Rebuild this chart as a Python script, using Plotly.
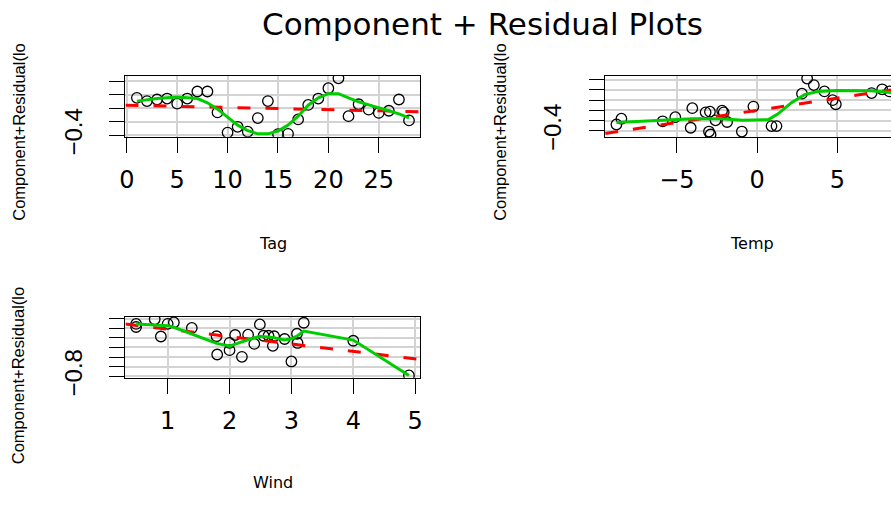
import plotly.graph_objects as go

W, H = 894, 508

# ---------------- data ----------------
tag = [1, 2, 3, 4, 5, 6, 7, 8, 9, 10, 11, 12, 13, 14,
       15, 16, 17, 18, 19, 20, 21, 22, 23, 24, 25, 26, 27, 28]
tag_resid = [-0.123, -0.147, -0.135, -0.128, -0.166, -0.128, -0.076, -0.076,
             -0.230, -0.379, -0.336, -0.372, -0.272, -0.147, -0.390, -0.388,
             -0.282, -0.175, -0.128, -0.052, 0.021, -0.258, -0.170, -0.210,
             -0.234, -0.218, -0.135, -0.289]
tag_fit_x = [-0.13, 29.1]
tag_fit_y = [-0.177, -0.225]
tag_smooth_x = [1, 3, 5, 7, 8, 9, 10, 11, 12, 13, 14, 15, 16, 17, 18, 19,
                20, 21, 22, 23, 24, 25, 26, 27, 28]
tag_smooth_y = [-0.147, -0.128, -0.116, -0.128, -0.159, -0.206, -0.265, -0.324,
                -0.365, -0.388, -0.388, -0.367, -0.324, -0.258, -0.177, -0.123,
                -0.092, -0.092, -0.123, -0.152, -0.175, -0.194, -0.218, -0.241,
                -0.270]

temp = [-8.77, -8.46, -5.89, -5.10, -4.04, -4.14, -3.21, -2.94, -3.00, -2.90,
        -2.59, -2.18, -2.08, -1.87, -0.95, -0.23, 0.90, 1.21, 2.80, 3.12,
        3.54, 4.20, 4.71, 4.91, 7.14, 7.80, 8.25]
temp_resid = [-0.337, -0.281, -0.306, -0.266, -0.178, -0.369, -0.219, -0.212,
              -0.406, -0.435, -0.297, -0.203, -0.219, -0.313, -0.406, -0.163,
              -0.353, -0.353, -0.037, 0.110, 0.047, -0.015, -0.100, -0.140,
              -0.031, 0.006, -0.015]
temp_fit_x = [-9.47, 8.35]
temp_fit_y = [-0.425, 0.0]
temp_smooth_x = [-8.77, -5.85, -4.04, -2.18, -0.91, 0.70, 1.31, 2.14, 2.96,
                 3.78, 5.00, 7.07, 8.35]
temp_smooth_y = [-0.318, -0.297, -0.281, -0.281, -0.297, -0.290, -0.234,
                 -0.125, -0.046, -0.015, -0.006, -0.009, -0.025]

wind = [0.49, 0.49, 0.79, 0.89, 1.00, 1.10, 1.39, 1.79, 1.80, 2.00, 2.00,
        2.09, 2.20, 2.30, 2.40, 2.49, 2.55, 2.63, 2.70, 2.72, 2.89, 3.00,
        3.09, 3.10, 3.20, 4.00, 4.90]
wind_resid = [-0.255, -0.287, -0.207, -0.386, -0.254, -0.240, -0.297, -0.383,
              -0.573, -0.452, -0.528, -0.370, -0.597, -0.367, -0.463, -0.260,
              -0.378, -0.378, -0.483, -0.383, -0.412, -0.645, -0.357, -0.453,
              -0.243, -0.430, -0.790]
wind_fit_x = [0.318, 5.08]
wind_fit_y = [-0.257, -0.624]
wind_smooth_x = [0.49, 1.0, 1.1, 1.38, 1.79, 2.0, 2.09, 2.31, 2.49, 2.7,
                 2.89, 3.01, 3.11, 3.2, 4.0, 4.9]
wind_smooth_y = [-0.257, -0.273, -0.29, -0.357, -0.457, -0.485, -0.463, -0.417,
                 -0.383, -0.397, -0.423, -0.407, -0.373, -0.33, -0.423, -0.79]

title_text = "Component + Residual Plots"
ylab_text = "Component+Residual(lo"
xlabels = ["Tag", "Temp", "Wind"]

tag_ticks = [0, 5, 10, 15, 20, 25]
temp_ticks = [-5, 0, 5]
wind_ticks = [1, 2, 3, 4, 5]
y1_ticks = [-0.4, -0.3, -0.2, -0.1, 0.0]
y2_ticks = [-0.4, -0.3, -0.2, -0.1, 0.0, 0.1]
y3_ticks = [-0.8, -0.7, -0.6, -0.5, -0.4, -0.3, -0.2]

# ---------------- figure ----------------
HFONT = "DejaVu Sans, Liberation Sans, Arial, sans-serif"   # horizontal text (wide)
VFONT = "Liberation Sans, Arial, Helvetica, sans-serif"     # rotated text
GREEN = "#00CD00"
RED = "#FF0000"

fig = go.Figure()

panels = [
    (tag, tag_resid, tag_fit_x, tag_fit_y, tag_smooth_x, tag_smooth_y, "x", "y"),
    (temp, temp_resid, temp_fit_x, temp_fit_y, temp_smooth_x, temp_smooth_y, "x2", "y2"),
    (wind, wind_resid, wind_fit_x, wind_fit_y, wind_smooth_x, wind_smooth_y, "x3", "y3"),
]
for xs, ys, fx, fy, sx, sy, xa, ya in panels:
    fig.add_trace(go.Scatter(x=xs, y=ys, mode="markers", xaxis=xa, yaxis=ya,
                             marker=dict(symbol="circle-open", size=10.5, color="black",
                                         line=dict(width=1.3, color="black")),
                             cliponaxis=True, showlegend=False, hoverinfo="skip"))
    fig.add_trace(go.Scatter(x=fx, y=fy, mode="lines", xaxis=xa, yaxis=ya,
                             line=dict(color=RED, width=3, dash="13px,15px"),
                             showlegend=False, hoverinfo="skip"))
    fig.add_trace(go.Scatter(x=sx, y=sy, mode="lines", xaxis=xa, yaxis=ya,
                             line=dict(color=GREEN, width=3),
                             showlegend=False, hoverinfo="skip"))


def xd(a, b):
    return [a / W, b / W]


def yd(top, bottom):
    return [1 - bottom / H, 1 - top / H]


common_x = dict(showline=True, linecolor="black", linewidth=1.3, mirror=True,
                ticks="outside", ticklen=15, tickwidth=1.3, tickcolor="black",
                showgrid=True, gridcolor="#D3D3D3", gridwidth=1.5, zeroline=False,
                tickfont=dict(family=HFONT, size=24, color="black"),
                ticklabelstandoff=6)
common_y = dict(showline=True, linecolor="black", linewidth=1.3,
                ticks="outside", ticklen=15, tickwidth=1.3, tickcolor="black",
                showgrid=True, gridcolor="#D3D3D3", gridwidth=1.5, zeroline=False,
                tickfont=dict(family=VFONT, size=24, color="black"),
                tickangle=-90, ticklabelstandoff=18)


def ylabels(ticks):
    return [("\u2212" + f"{abs(ticks[0]):.1f}")] + [""] * (len(ticks) - 1)


fig.update_layout(
    width=W, height=H,
    margin=dict(l=0, r=0, t=0, b=0),
    paper_bgcolor="white", plot_bgcolor="white",
    font=dict(family=HFONT, color="black"),
    xaxis=dict(common_x, domain=xd(120.7, 418.3), range=[-0.13, 29.1],
               tickvals=tag_ticks, anchor="y"),
    yaxis=dict(common_y, mirror=True, domain=yd(79, 142), range=[-0.409, 0.0376],
               tickvals=y1_ticks, ticktext=ylabels(y1_ticks), anchor="x"),
    xaxis2=dict(common_x, domain=xd(605.3, 894), range=[-9.47, 8.35],
                tickvals=temp_ticks,
                ticktext=[("\u2212" + str(abs(t))) if t < 0 else str(t) for t in temp_ticks],
                anchor="y2"),
    yaxis2=dict(common_y, mirror=False, domain=yd(79, 142.3), range=[-0.459, 0.135],
                tickvals=y2_ticks, ticktext=ylabels(y2_ticks), anchor="x2"),
    xaxis3=dict(common_x, domain=xd(120.7, 418.3), range=[0.318, 5.08],
                tickvals=wind_ticks, anchor="y3"),
    yaxis3=dict(common_y, mirror=True, domain=yd(329.3, 392.3), range=[-0.813, -0.183],
                tickvals=y3_ticks, ticktext=ylabels(y3_ticks), anchor="x3"),
)

ann = []
ann.append(dict(text=title_text, x=481.5 / W, y=1 - 25 / H, xref="paper", yref="paper",
                xanchor="center", yanchor="middle", showarrow=False,
                font=dict(family=HFONT, size=31, color="black")))
for label, cx, cy in zip(xlabels, [270, 754, 269.5], [252.5, 252.5, 501]):
    ann.append(dict(text=label, x=cx / W, y=1 - cy / H, xref="paper", yref="paper",
                    xanchor="center", yanchor="middle", showarrow=False,
                    font=dict(family=HFONT, size=16, color="black")))
for cx, cy in [(13, 137), (499, 137), (13, 390)]:
    ann.append(dict(text=ylab_text, x=cx / W, y=1 - cy / H, xref="paper", yref="paper",
                    xanchor="center", yanchor="middle", showarrow=False, textangle=-90,
                    font=dict(family=VFONT, size=16.5, color="black")))
fig.update_layout(annotations=ann)

fig.write_html("out.html")
